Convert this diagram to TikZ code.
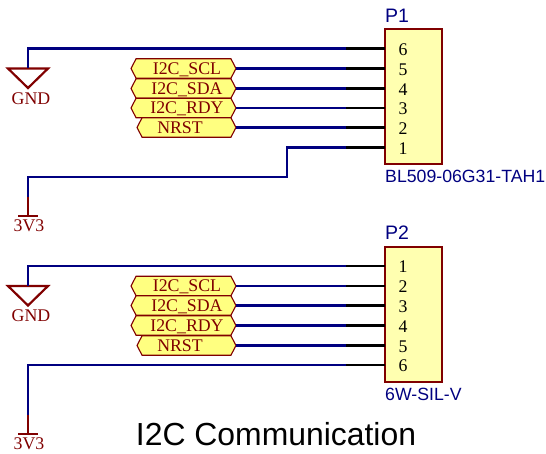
\documentclass[tikz,border=0pt]{standalone}
\usepackage{fontspec}
\setmainfont{Liberation Serif}
\newfontfamily\arialf{Liberation Sans}
\usetikzlibrary{shapes.symbols}
\definecolor{wireblue}{HTML}{000080}
\definecolor{darkred}{HTML}{800000}
\definecolor{boxfill}{HTML}{FFFFB0}
\definecolor{portfill}{HTML}{FFFF80}
\tikzset{
  wire/.style={draw=wireblue,line width=2.2pt},
  pinline/.style={draw=black,line width=2.2pt},
  pwr/.style={draw=darkred,line width=2.2pt},
  connbox/.style={draw=darkred,line width=1.2pt,fill=boxfill,rectangle,anchor=north west,minimum width=57pt,minimum height=135pt,inner sep=0pt,outer sep=0pt},
  port/.style={draw=darkred,line width=1.1pt,fill=portfill,signal,signal to=west and east,signal pointer angle=125,inner sep=0pt,outer sep=0pt,minimum height=19.5pt,text=darkred,font=\fontsize{17.8}{17.8}\selectfont,text height=12pt,text depth=0pt},
  pwrtext/.style={text=darkred,font=\fontsize{17.8}{17.8}\selectfont,inner sep=0pt},
  pinnum/.style={text=black,font=\fontsize{17.8}{17.8}\selectfont,inner sep=0pt},
  desig/.style={text=wireblue,font=\arialf\fontsize{19.5}{19.5}\selectfont,inner sep=0pt,anchor=base west},
  comment/.style={text=wireblue,font=\arialf\fontsize{17.7}{17.7}\selectfont,inner sep=0pt,anchor=base west},
  gndsym/.style={draw=darkred,line width=2.2pt},
}
\begin{document}
\begin{tikzpicture}[x=1pt,y=-1pt]
\useasboundingbox (0,0) rectangle (546,454);
% ===== P1 =====
\node[connbox] (P1) at (385,29) {};
\node[desig] (P1d) at (385,23) {P1};
\node[comment] (P1c) at (385,183) {BL509-06G31-TAH1};
\foreach \n/\y/\lab in {a/48.5/6,b/68.5/5,c/88.5/4,d/108/3,e/127.5/2,f/147.5/1}{
  \coordinate (P1\n) at (385,\y);
  \coordinate (P1\n w) at (346,\y);
  \node[pinnum] (P1\n t) at (403,\y+1) {\lab};
  \draw[pinline] (P1\n w) -- (P1\n);
}
% ===== P2 =====
\node[connbox] (P2) at (385,247) {};
\node[desig] (P2d) at (385,240) {P2};
\node[comment] (P2c) at (385,400) {6W-SIL-V};
\foreach \n/\y/\lab in {a/266/1,b/286/2,c/305.5/3,d/325.5/4,e/345.5/5,f/365/6}{
  \coordinate (P2\n) at (385,\y);
  \coordinate (P2\n w) at (346,\y);
  \node[pinnum] (P2\n t) at (403,\y+1) {\lab};
  \draw[pinline] (P2\n w) -- (P2\n);
}
% ===== Ports P1 =====
\node[port,minimum width=105pt] (s1) at (183.5,68.5) {\hspace*{7pt}I2C\_SCL};
\node[port,minimum width=105pt] (s2) at (183.5,88.5) {\hspace*{7pt}I2C\_SDA};
\node[port,minimum width=105pt] (s3) at (183.5,108) {\hspace*{7pt}I2C\_RDY};
\node[port,minimum width=99pt] (s4) at (186.5,127.5) {\hspace*{-13pt}NRST};
\draw[wire] (s1.east) -- (P1bw);
\draw[wire] (s2.east) -- (P1cw);
\draw[wire] (s3.east) -- (P1dw);
\draw[wire] (s4.east) -- (P1ew);
% ===== Ports P2 =====
\node[port,minimum width=105pt] (t1) at (183.5,286) {\hspace*{7pt}I2C\_SCL};
\node[port,minimum width=105pt] (t2) at (183.5,305.5) {\hspace*{7pt}I2C\_SDA};
\node[port,minimum width=105pt] (t3) at (183.5,325.5) {\hspace*{7pt}I2C\_RDY};
\node[port,minimum width=99pt] (t4) at (186.5,345.5) {\hspace*{-13pt}NRST};
\draw[wire] (t1.east) -- (P2bw);
\draw[wire] (t2.east) -- (P2cw);
\draw[wire] (t3.east) -- (P2dw);
\draw[wire] (t4.east) -- (P2ew);
% ===== GND / 3V3 P1 =====
\coordinate (g1) at (28,68.5);
\draw[gndsym,line join=miter] (8,68.5) -- (48,68.5) -- (28,88) -- cycle;
\node[pwrtext] (g1t) at (31,98.5) {GND};
\draw[wire] (P1aw) -- (28,48.5) -- (g1);
\coordinate (v1) at (28,197);
\coordinate (v1b) at (28,216);
\draw[wire] (P1fw) -- (287,147.5) -- (287,177) -- (28,177) -- (v1);
\draw[pwr] (v1) -- (v1b);
\draw[pwr] (18,216) -- (38,216);
\node[pwrtext] (v1t) at (29,226) {3V3};
% ===== GND / 3V3 P2 =====
\coordinate (g2) at (28,286);
\draw[gndsym,line join=miter] (8,286) -- (48,286) -- (28,305.5) -- cycle;
\node[pwrtext] (g2t) at (31,315.5) {GND};
\draw[wire] (P2aw) -- (28,266) -- (g2);
\coordinate (v2) at (28,415);
\coordinate (v2b) at (28,434);
\draw[wire] (P2fw) -- (28,365) -- (v2);
\draw[pwr] (v2) -- (v2b);
\draw[pwr] (18,434) -- (38,434);
\node[pwrtext] (v2t) at (29,444) {3V3};
% ===== Title =====
\node[text=black,font=\arialf\fontsize{31.9}{31.9}\selectfont,inner sep=0pt] (title) at (276,434) {I2C Communication};
\end{tikzpicture}
\end{document}
